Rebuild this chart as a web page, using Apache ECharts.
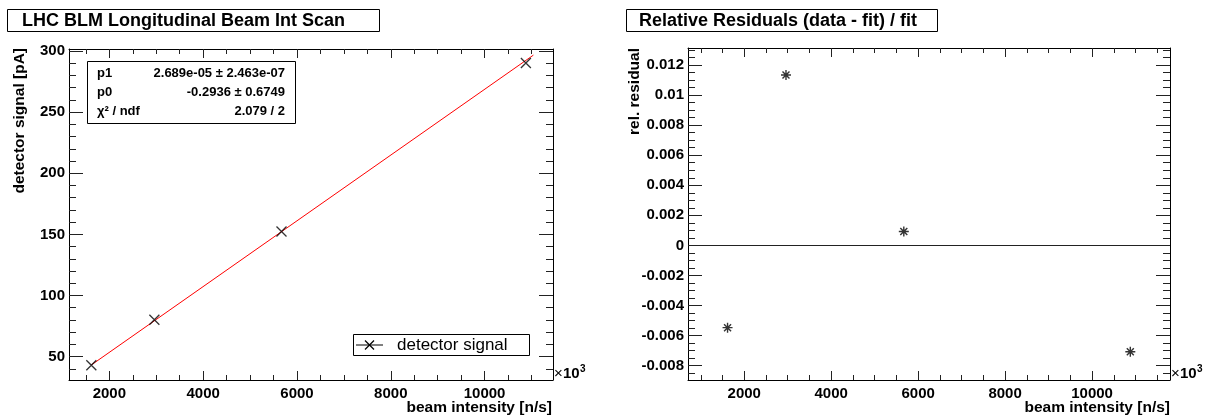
<!DOCTYPE html>
<html><head><meta charset="utf-8">
<script src="https://cdn.jsdelivr.net/npm/echarts@6/dist/echarts.min.js"></script>
<style>html,body{margin:0;padding:0;background:#fff}#c{width:1209px;height:417px}</style>
</head><body><div id="c"></div><script>
// ---- data ----
const beamIntensity = [1616, 2960, 5670, 10880];          // x10^3 n/s
const detectorSignal = [42.9, 80.2, 152.3, 290.2];        // pA
const relResidual = [-0.00547, 0.01133, 0.00093, -0.00707];
const fitLineX = [1616, 11040];
const fitLineY = [43.2, 296.6];
const xTickValues = [2000, 4000, 6000, 8000, 10000];
const yTickLeft = [50, 100, 150, 200, 250, 300];
const yTickRight = [-0.008, -0.006, -0.004, -0.002, 0, 0.002, 0.004, 0.006, 0.008, 0.01, 0.012];
const statNames = ['p1', 'p0', 'χ² / ndf'];
const statValues = ['2.689e-05 ± 2.463e-07', '-0.2936 ± 0.6749', '2.079 / 2'];
const leftTitle = 'LHC BLM Longitudinal Beam Int Scan';
const rightTitle = 'Relative Residuals (data - fit) / fit';
const legendLabel = 'detector signal';

// ---- helpers ----
function steps(a, b, s, exclude) {
  const out = [];
  const n = Math.round((b - a) / s);
  for (let i = 0; i <= n; i++) {
    const v = +(a + i * s).toFixed(6);
    if (!exclude.some(e => Math.abs(e - v) < s / 100)) out.push(v);
  }
  return out;
}
const FF = '"Liberation Sans", Arial, Helvetica, sans-serif';
const fmtNum = v => String(parseFloat((+v).toFixed(4)));

const ranges = {
  L: { xmin: 1140, xmax: 11458, ymin: 30.9, ymax: 301.6 },
  R: { xmin: 706, xmax: 11793, ymin: -0.00895, ymax: 0.01313 }
};
const minor = {
  Lx: steps(1500, 11000, 500, xTickValues),
  Ly: steps(40, 300, 10, yTickLeft),
  Rx: steps(1000, 11500, 500, xTickValues),
  Ry: steps(-0.0085, 0.013, 0.0005, yTickRight)
};

function axis(dim, grid, min, max, pos, ticks, len, showLine, labels) {
  return {
    gridIndex: grid, type: 'value', min: min, max: max, position: pos,
    axisLine: { show: showLine, onZero: false, lineStyle: { color: '#000', width: 1 } },
    splitLine: { show: false },
    axisTick: { show: true, inside: true, length: len, customValues: ticks, lineStyle: { color: '#222', width: 1 } },
    axisLabel: labels ? {
      show: true, customValues: ticks, formatter: fmtNum, fontFamily: FF, fontWeight: 'bold',
      fontSize: 15, color: '#000', margin: dim === 'x' ? 6 : 4
    } : { show: false },
    silent: true
  };
}

const xAxes = [], yAxes = [];
[['L', 0], ['R', 1]].forEach(([k, g]) => {
  const r = ranges[k];
  const yt = k === 'L' ? yTickLeft : yTickRight;
  xAxes.push(axis('x', g, r.xmin, r.xmax, 'bottom', xTickValues, 9, true, true));
  xAxes.push(axis('x', g, r.xmin, r.xmax, 'bottom', minor[k + 'x'], 5, false, false));
  xAxes.push(axis('x', g, r.xmin, r.xmax, 'top', xTickValues, 9, true, false));
  xAxes.push(axis('x', g, r.xmin, r.xmax, 'top', minor[k + 'x'], 5, false, false));
  yAxes.push(axis('y', g, r.ymin, r.ymax, 'left', yt, 14, true, true));
  yAxes.push(axis('y', g, r.ymin, r.ymax, 'left', minor[k + 'y'], 7, false, false));
  yAxes.push(axis('y', g, r.ymin, r.ymax, 'right', yt, 14, true, false));
  yAxes.push(axis('y', g, r.ymin, r.ymax, 'right', minor[k + 'y'], 7, false, false));
});

const crossPath = 'path://M0,0L10,10M10,0L0,10';
const starPath = 'path://M5,0L5,10M0,5L10,5M1.5,1.5L8.5,8.5M8.5,1.5L1.5,8.5';

const series = [
  {
    type: 'line', xAxisIndex: 0, yAxisIndex: 0, silent: true,
    data: fitLineX.map((x, i) => [x, fitLineY[i]]),
    showSymbol: false, symbol: 'none',
    lineStyle: { color: '#ff0000', width: 1 }, z: 3
  },
  {
    type: 'scatter', xAxisIndex: 0, yAxisIndex: 0, silent: true,
    data: beamIntensity.map((x, i) => [x, detectorSignal[i]]),
    symbol: crossPath, symbolSize: 10,
    itemStyle: { color: 'transparent', borderColor: '#000', borderWidth: 1.3 }, z: 4
  },
  {
    type: 'scatter', xAxisIndex: 4, yAxisIndex: 4, silent: true,
    data: beamIntensity.map((x, i) => [x, relResidual[i]]),
    symbol: starPath, symbolSize: 10,
    itemStyle: { color: 'transparent', borderColor: '#000', borderWidth: 1.4 }, z: 4,
    markLine: {
      silent: true, symbol: 'none', animation: false,
      label: { show: false },
      lineStyle: { color: '#222', width: 1, type: 'solid' },
      data: [{ yAxis: 0 }]
    }
  }
];

function txt(x, y, text, font, align, valign, extra) {
  return Object.assign({
    type: 'text', x: x, y: y, silent: true,
    style: { text: text, font: font, fill: '#000', align: align, textAlign: align, verticalAlign: valign, textVerticalAlign: valign }
  }, extra || {});
}
function box(x, y, w, h) {
  return { type: 'rect', silent: true, shape: { x: x, y: y, width: w, height: h }, style: { fill: '#fff', stroke: '#000', lineWidth: 1 } };
}
function seg(x1, y1, x2, y2, w) {
  return { type: 'line', silent: true, z: 11, shape: { x1: x1, y1: y1, x2: x2, y2: y2 }, style: { stroke: '#000', lineWidth: w } };
}

const graphics = [];
// titles
graphics.push(box(7.5, 9.5, 372, 22));
graphics.push(txt(22, 21, leftTitle, 'bold 18px ' + FF, 'left', 'middle'));
graphics.push(box(626.5, 9.5, 311, 22));
graphics.push(txt(639, 21, rightTitle, 'bold 18px ' + FF, 'left', 'middle'));
// stats box
graphics.push(Object.assign(box(87.5, 61.5, 208, 62), { z: 10 }));
statNames.forEach((n, i) => {
  graphics.push(txt(97, 73.5 + i * 19, n, 'bold 13px ' + FF, 'left', 'middle', { z: 11 }));
  graphics.push(txt(285, 73.5 + i * 19, statValues[i], 'bold 13px ' + FF, 'right', 'middle', { z: 11 }));
});
// legend
graphics.push(Object.assign(box(353.5, 334.5, 176, 21), { z: 10 }));
graphics.push(seg(356, 345, 383, 345, 1));
graphics.push(seg(365, 340.5, 374, 349.5, 1.3));
graphics.push(seg(374, 340.5, 365, 349.5, 1.3));
graphics.push(txt(397, 345.5, legendLabel, '17px ' + FF, 'left', 'middle', { z: 11 }));
// axis titles
graphics.push(txt(20, 48, 'detector signal [pA]', 'bold 15.5px ' + FF, 'right', 'middle', { rotation: Math.PI / 2 }));
graphics.push(txt(552, 408, 'beam intensity [n/s]', 'bold 15.5px ' + FF, 'right', 'middle'));
graphics.push(txt(635, 48, 'rel. residual', 'bold 15.5px ' + FF, 'right', 'middle', { rotation: Math.PI / 2 }));
graphics.push(txt(1170, 408, 'beam intensity [n/s]', 'bold 15.5px ' + FF, 'right', 'middle'));
// x10^3 multipliers
[554, 1171].forEach(x0 => {
  graphics.push(txt(x0, 374, '×', '15px ' + FF, 'left', 'middle'));
  graphics.push(txt(x0 + 9, 374, '10', 'bold 15px ' + FF, 'left', 'middle'));
  graphics.push(txt(x0 + 26, 369, '3', 'bold 10px ' + FF, 'left', 'middle'));
});

const chart = echarts.init(document.getElementById('c'), null, { renderer: 'canvas' });
chart.setOption({
  animation: false,
  backgroundColor: '#fff',
  textStyle: { fontFamily: FF },
  grid: [
    { left: 69, top: 49, width: 484, height: 331 },
    { left: 688, top: 48, width: 482, height: 332 }
  ],
  xAxis: xAxes,
  yAxis: yAxes,
  series: series,
  graphic: graphics
});
</script></body></html>
